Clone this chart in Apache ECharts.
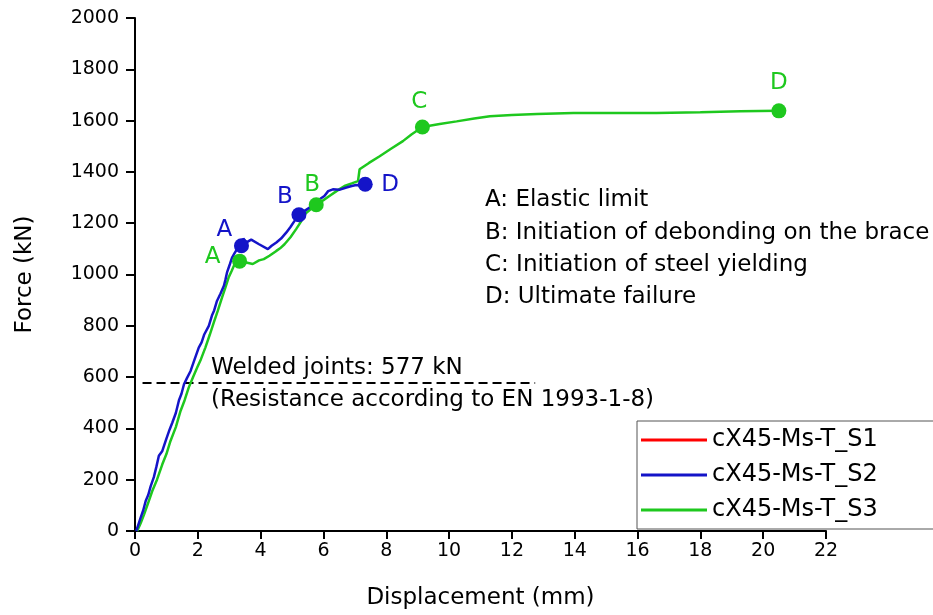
<!DOCTYPE html>
<html>
<head>
<meta charset="utf-8">
<script src="https://cdn.jsdelivr.net/npm/echarts@6/dist/echarts.min.js"></script>
<style>
html,body{margin:0;padding:0;background:#fff;}
#main{width:933px;height:615px;}
</style>
</head>
<body>
<div id="main"></div>
<script>
// ---- data ----
var seriesNames = ['cX45-Ms-T_S1', 'cX45-Ms-T_S2', 'cX45-Ms-T_S3'];
var xTicks = [0, 2, 4, 6, 8, 10, 12, 14, 16, 18, 20, 22];
var yTicks = [0, 200, 400, 600, 800, 1000, 1200, 1400, 1600, 1800, 2000];

var s1 = [];
var s2 = [
  [0.04, 0], [0.12, 30], [0.18, 52], [0.26, 80], [0.34, 117], [0.42, 140], [0.5, 175], [0.6, 210],
  [0.68, 250], [0.76, 293], [0.8, 300], [0.87, 312], [1.0, 360], [1.1, 395], [1.19, 423], [1.3, 460],
  [1.4, 510], [1.48, 535], [1.56, 572], [1.65, 595], [1.77, 624], [1.9, 670], [2.03, 715], [2.12, 735],
  [2.2, 765], [2.35, 800], [2.45, 840], [2.52, 860], [2.61, 897], [2.72, 925], [2.83, 956], [2.88, 980],
  [2.93, 1008], [3.02, 1040], [3.09, 1066], [3.18, 1085], [3.25, 1099], [3.39, 1112], [3.45, 1140],
  [3.55, 1125], [3.7, 1136], [3.95, 1118], [4.23, 1099], [4.35, 1112], [4.5, 1125], [4.65, 1140],
  [4.82, 1164], [4.95, 1185], [5.08, 1209], [5.15, 1222], [5.22, 1233], [5.4, 1248], [5.56, 1261],
  [5.75, 1285], [5.9, 1295], [6.03, 1306], [6.15, 1325], [6.3, 1332], [6.5, 1330], [6.73, 1339],
  [6.9, 1345], [7.04, 1349], [7.2, 1348], [7.33, 1352]
];
var s3 = [
  [0.07, 0], [0.18, 30], [0.29, 65], [0.42, 110], [0.55, 156], [0.7, 200], [0.87, 260], [1.0, 300],
  [1.13, 351], [1.3, 405], [1.45, 468], [1.58, 510], [1.71, 559], [1.85, 600], [1.98, 637], [2.1, 670],
  [2.24, 715], [2.38, 765], [2.51, 813], [2.64, 860], [2.77, 910], [2.88, 950], [2.98, 988], [3.08, 1015],
  [3.17, 1040], [3.33, 1052], [3.5, 1048], [3.75, 1041], [3.95, 1055], [4.1, 1060], [4.28, 1073],
  [4.5, 1092], [4.62, 1102], [4.76, 1118], [4.95, 1145], [5.13, 1177], [5.28, 1205], [5.4, 1235],
  [5.6, 1255], [5.77, 1272], [6.0, 1290], [6.19, 1306], [6.45, 1328], [6.67, 1345], [6.9, 1355],
  [7.1, 1364], [7.15, 1410], [7.45, 1435], [7.79, 1461], [8.15, 1490], [8.53, 1520], [8.8, 1546],
  [9.15, 1575], [9.7, 1587], [10.24, 1597], [10.8, 1608], [11.3, 1617], [12.0, 1622], [12.8, 1626],
  [13.96, 1630], [15.3, 1630], [16.6, 1630], [18.0, 1633], [19.27, 1636], [20.5, 1638]
];

var s2KeyPoints = [[3.39, 1112], [5.22, 1233], [7.33, 1352]];
var s2KeyLabels = ['A', 'B', 'D'];
var s3KeyPoints = [[3.33, 1052], [5.77, 1272], [9.15, 1575], [20.5, 1638]];
var s3KeyLabels = ['A', 'B', 'C', 'D'];

var weldLine = [[0.24, 577], [12.74, 577]];
var weldTexts = ['Welded joints: 577 kN', '(Resistance according to EN 1993-1-8)'];
var notes = ['A: Elastic limit', 'B: Initiation of debonding on the brace', 'C: Initiation of steel yielding', 'D: Ultimate failure'];

// ---- styling / build ----
var FONT = 'DejaVu Sans';
var colors = ['#ff0000', '#1414c8', '#1ec81e'];
var s2Offsets = [[-17, -16], [-14, -18], [25, 1]];
var s3Offsets = [[-27, -4], [-4, -20], [-3, -25], [0, -28]];

function keyData(pts, labels, offs, color) {
  return pts.map(function (p, i) {
    return {
      value: p,
      label: {
        show: true, formatter: labels[i], position: 'inside', offset: offs[i],
        color: color, fontFamily: FONT, fontSize: 23
      }
    };
  });
}

var chart = echarts.init(document.getElementById('main'), null, {renderer: 'canvas'});
var option = {
  animation: false,
  backgroundColor: '#ffffff',
  grid: {left: 135, right: 107, top: 18, bottom: 82, containLabel: false},
  legend: {
    data: seriesNames,
    orient: 'vertical',
    left: 637, top: 421,
    icon: 'rect', itemWidth: 66, itemHeight: 3, itemGap: 11,
    padding: [7, 60, 7, 4],
    borderColor: '#555', borderWidth: 1,
    textStyle: {fontFamily: FONT, fontSize: 24, color: '#000', lineHeight: 24}
  },
  xAxis: {
    type: 'value', min: xTicks[0], max: xTicks[xTicks.length - 1], interval: 2,
    name: 'Displacement (mm)', nameLocation: 'middle', nameGap: 56,
    nameTextStyle: {fontFamily: FONT, fontSize: 23, color: '#000'},
    axisLine: {lineStyle: {color: '#000', width: 2}},
    axisTick: {length: 8, lineStyle: {color: '#000', width: 2}},
    axisLabel: {fontFamily: FONT, fontSize: 19, color: '#000', margin: 11,
                formatter: function (v) { return String(v); }},
    splitLine: {show: false}
  },
  yAxis: {
    type: 'value', min: yTicks[0], max: yTicks[yTicks.length - 1], interval: 200,
    name: 'Force (kN)', nameLocation: 'middle', nameGap: 98,
    nameTextStyle: {fontFamily: FONT, fontSize: 23, color: '#000'},
    axisLine: {show: true, lineStyle: {color: '#000', width: 2}},
    axisTick: {show: true, length: 9, lineStyle: {color: '#000', width: 2}},
    axisLabel: {fontFamily: FONT, fontSize: 19, color: '#000', margin: 16,
                formatter: function (v) { return String(v); }},
    splitLine: {show: false}
  },
  series: [
    {name: seriesNames[0], type: 'line', data: s1, showSymbol: false, symbol: 'none',
     lineStyle: {color: colors[0], width: 2}, itemStyle: {color: colors[0]}},
    {name: 'weld', type: 'line', data: weldLine, symbol: 'none', silent: true,
     lineStyle: {color: '#000', width: 2, type: [9, 5]}, z: 1},
    {name: seriesNames[2], type: 'line', data: s3, symbol: 'none',
     lineStyle: {color: colors[2], width: 2.5}, itemStyle: {color: colors[2]}, z: 2},
    {name: seriesNames[1], type: 'line', data: s2, symbol: 'none',
     lineStyle: {color: colors[1], width: 2.5}, itemStyle: {color: colors[1]}, z: 3},
    {name: 'S3 key', type: 'scatter', data: keyData(s3KeyPoints, s3KeyLabels, s3Offsets, colors[2]),
     symbolSize: 15, itemStyle: {color: colors[2], opacity: 1}, z: 4},
    {name: 'S2 key', type: 'scatter', data: keyData(s2KeyPoints, s2KeyLabels, s2Offsets, colors[1]),
     symbolSize: 15, itemStyle: {color: colors[1], opacity: 1}, z: 5}
  ],
  graphic: [
    {type: 'text', left: 211, top: 357, style: {text: weldTexts[0], font: '23px "' + FONT + '"', fill: '#000'}},
    {type: 'text', left: 211, top: 389, style: {text: weldTexts[1], font: '23px "' + FONT + '"', fill: '#000'}}
  ].concat(notes.map(function (t, i) {
    return {type: 'text', left: 485, top: 189 + i * 32.2, style: {text: t, font: '23px "' + FONT + '"', fill: '#000'}};
  }))
};
chart.setOption(option);
</script>
</body>
</html>
